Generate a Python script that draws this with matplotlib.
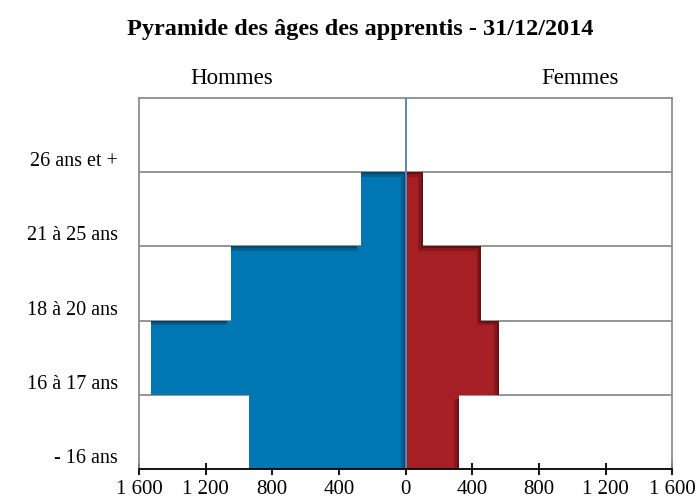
import numpy as np
import matplotlib
matplotlib.use('Agg')
import matplotlib.pyplot as plt
from matplotlib.transforms import ScaledTranslation
from matplotlib.ticker import FuncFormatter

age_groups = ['- 16 ans', '16 à 17 ans', '18 à 20 ans', '21 à 25 ans', '26 ans et +']
hommes = [940, 1530, 1045, 265, 0]
femmes = [318, 558, 454, 104, 0]
x_ticks = [-1600, -1200, -800, -400, 0, 400, 800, 1200, 1600]

plt.rcParams['font.family'] = ['Liberation Serif', 'DejaVu Serif']

grey = '#8c8c8c'

fig = plt.figure(figsize=(6.97, 5.04), dpi=100)
ax = fig.add_axes([0.1994, 0.0694, 0.7650, 0.7362])

y_edges = np.arange(len(age_groups) + 1)


def draw_side(values, sign, base, mid, dark):
    # step area with a soft inner shadow on the top / outer edges
    x = sign * np.append(values, values[-1])
    shape = ax.fill_betweenx(y_edges, 0, x, step='post', color=dark, lw=0, zorder=2)
    clip = shape.get_paths()[0]
    for shift, colour in [(2.0, mid), (4.5, base)]:
        layer = ax.fill_betweenx(y_edges, 0, x, step='post', color=colour, lw=0, zorder=2)
        layer.set_transform(ax.transData + ScaledTranslation(-shift / 100, -shift / 100, fig.dpi_scale_trans))
        layer.set_clip_path(clip, ax.transData)


draw_side(hommes, -1, '#0077b3', '#005f8f', '#004a70')
draw_side(femmes, 1, '#a61f24', '#87171b', '#651014')

ax.hlines(y_edges[1:-1], x_ticks[0], x_ticks[-1], color=grey, lw=1.3, zorder=1)
ax.axvline(0, color='#5a86b5', lw=1.4, zorder=4)

ax.set_xlim(x_ticks[0], x_ticks[-1])
ax.set_ylim(y_edges[0], y_edges[-1])

ax.set_xticks(x_ticks)
ax.xaxis.set_major_formatter(FuncFormatter(lambda v, p: f'{abs(int(v)):,}'.replace(',', ' ')))
ax.set_yticks(y_edges[:-1])
ax.set_yticklabels(age_groups)

ax.tick_params(axis='x', direction='inout', length=8, width=1.3, color='black', labelsize=15, pad=4)
ax.tick_params(axis='y', length=0, labelsize=14.5, pad=15)
for label in ax.get_yticklabels():
    label.set_transform(label.get_transform() + ScaledTranslation(0, 0.13, fig.dpi_scale_trans))

for side in ['top', 'left', 'right']:
    ax.spines[side].set_color(grey)
    ax.spines[side].set_linewidth(1.3)
ax.spines['bottom'].set_color('black')
ax.spines['bottom'].set_linewidth(1.3)
ax.spines['bottom'].set_zorder(5)

fig.text(360 / 697, 1 - 30 / 504, 'Pyramide des âges des apprentis - 31/12/2014',
         ha='center', va='center', fontsize=17.5, weight='bold')
fig.text(232 / 697, 1 - 78 / 504, 'Hommes', ha='center', va='center', fontsize=16.5)
fig.text(580 / 697, 1 - 78 / 504, 'Femmes', ha='center', va='center', fontsize=16.5)

fig.savefig('out.png', dpi=100)
